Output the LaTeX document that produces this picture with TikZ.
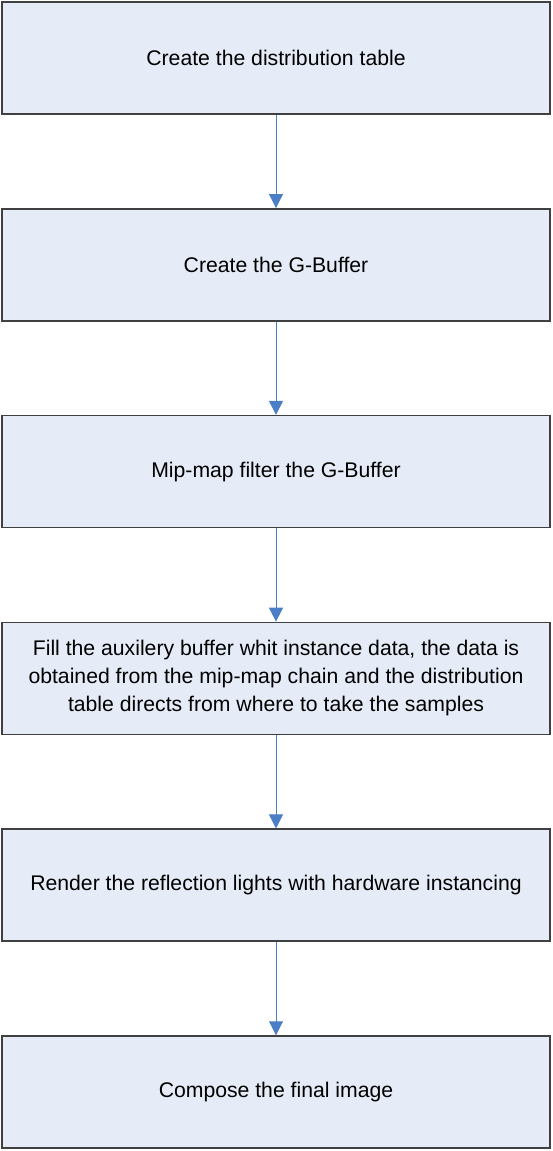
\documentclass[tikz,border=0pt]{standalone}
\usepackage{fontspec}
\setmainfont{Liberation Sans}
\usepackage{xcolor}
\usetikzlibrary{arrows.meta,positioning}
\definecolor{boxfill}{HTML}{E6ECF7}
\definecolor{boxline}{HTML}{404040}
\definecolor{arrowblue}{HTML}{4A7EC6}

\begin{document}
\begin{tikzpicture}[
        x=1pt, y=-1pt,
        node distance=206.8pt,
        stage/.style={fill=boxfill, draw=boxline, line width=1.5pt, minimum width=548pt, minimum height=112pt, inner sep=0pt, align=center, font=\fontsize{21.2}{28}\selectfont},
        flow/.style={draw=arrowblue, line width=1pt, -{Triangle[width=14pt,length=14pt]}}
    ]
    \useasboundingbox (0,0) rectangle (552,1151);
    \node[stage] (table) at (276,58) {Create the distribution table};
    \node[stage, below of=table] (gbuffer) {Create the G-Buffer};
    \node[stage, below of=gbuffer] (mipmap) {Mip-map filter the G-Buffer};
    \node[stage, below of=mipmap] (fill) {Fill the auxilery buffer whit instance data, the data is\\obtained from the mip-map chain and the distribution\\table directs from where to take the samples};
    \node[stage, below of=fill] (render) {Render the reflection lights with hardware instancing};
    \node[stage, below of=render] (compose) {Compose the final image};
    \draw[flow] (table) -- (gbuffer);
    \draw[flow] (gbuffer) -- (mipmap);
    \draw[flow] (mipmap) -- (fill);
    \draw[flow] (fill) -- (render);
    \draw[flow] (render) -- (compose);
    \end{tikzpicture}
\end{document}
